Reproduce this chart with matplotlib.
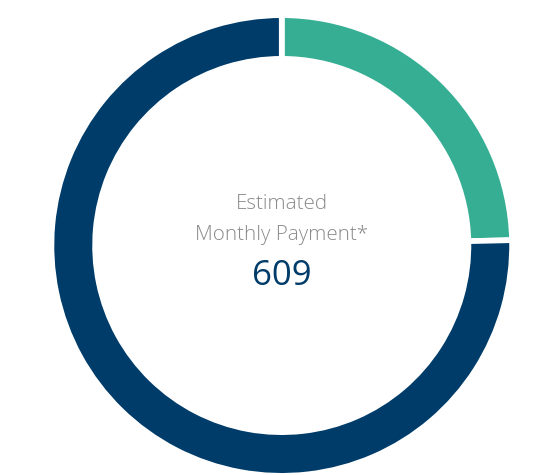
import matplotlib
matplotlib.use("Agg")
import matplotlib.pyplot as plt

labels = ["Taxes & Insurance", "Principal & Interest"]
values = [150, 459]
colors = ["#36ae94", "#003c69"]
title_lines = ["Estimated", "Monthly Payment*"]
payment = "609"

W, H = 555, 475
fig = plt.figure(figsize=(W / 100, H / 100), dpi=100)
ax = fig.add_axes([0, 0, 1, 1])

cx, cy = 281.75, H - 245.5
gap_px = 5.7
lw_pt = gap_px * 72 / 100
r_out = 227.5 + gap_px / 2
ring = 38 + gap_px

ax.pie(values, colors=colors, startangle=90, counterclock=False,
       center=(cx, cy), radius=r_out, frame=True,
       wedgeprops=dict(width=ring, edgecolor="white", linewidth=lw_pt))
ax.set_xlim(0, W)
ax.set_ylim(0, H)
ax.set_aspect("equal")
ax.axis("off")

font = ["Open Sans", "DejaVu Sans"]
ax.text(cx, H - 204, title_lines[0], ha="center", va="center",
        fontsize=14.8, color="#8a8a8a", family=font, fontweight=300)
ax.text(cx, H - 235, title_lines[1], ha="center", va="center",
        fontsize=14.8, color="#8a8a8a", family=font, fontweight=300)
ax.text(cx, H - 276, payment, ha="center", va="center",
        fontsize=25, color="#003c69", family=font)

fig.savefig("out.png", dpi=100)
